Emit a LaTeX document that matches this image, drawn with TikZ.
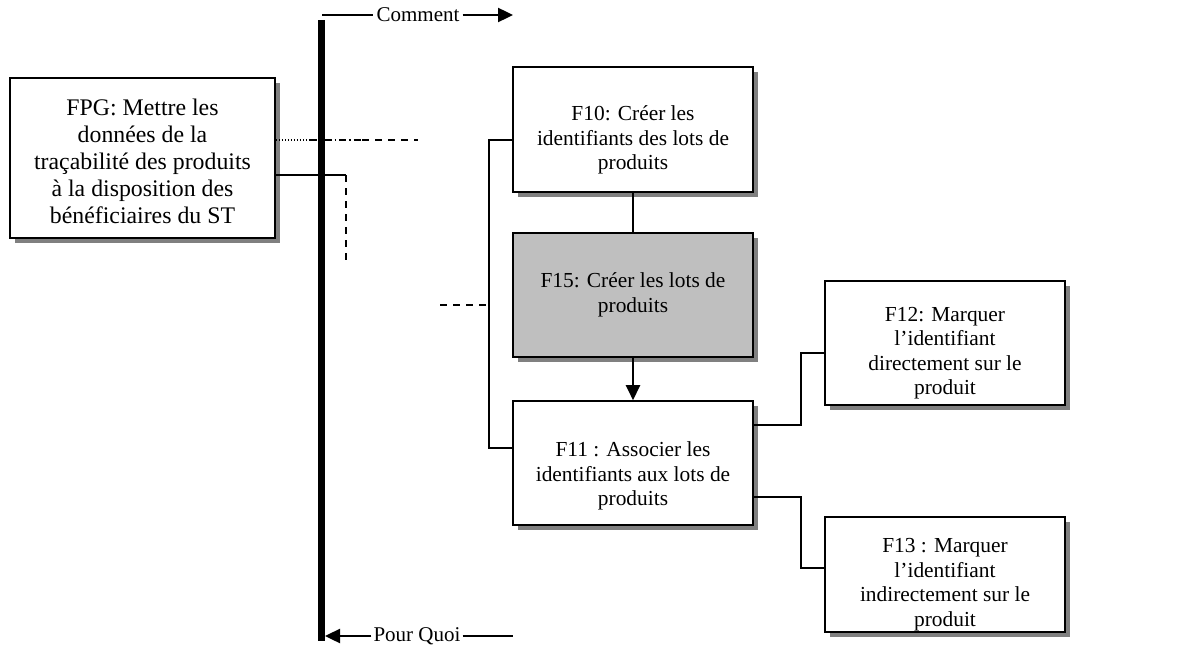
\documentclass[tikz,border=0pt]{standalone}
\usepackage{fontspec}
\setmainfont{Liberation Serif}
\usetikzlibrary{arrows.meta,shadows}
\begin{document}
\begin{tikzpicture}[x=1pt,y=-1pt,
  box/.style={draw=black,line width=1.6pt,fill=white,inner sep=0pt,
    drop shadow={shadow xshift=5pt,shadow yshift=-5pt,fill=black!50,opacity=1}},
  boxtext/.style={align=center,font=\fontsize{21.4}{24.5}\selectfont,inner sep=0pt},
  conn/.style={line width=1.3pt},
  dconn/.style={line width=1.3pt,dash pattern=on 7pt off 6pt},
  lbl/.style={font=\fontsize{21}{24}\selectfont,inner sep=0pt},
  tip/.style={line width=2.4pt,-{Triangle[length=15pt,width=14pt]}}
]
\useasboundingbox (0,0) rectangle (1178,650);

% boxes
\node[box,minimum width=265pt,minimum height=160pt] (fpg) at (142.5,158) {};
\node[boxtext,font=\fontsize{23.8}{27}\selectfont] (fpgt) at (142.5,161)
  {FPG: Mettre les\\donn\'ees de la\\tra\c{c}abilit\'e des produits\\\`a la disposition des\\b\'en\'eficiaires du ST};

\node[box,minimum width=240pt,minimum height=125pt] (f10) at (633,129.5) {};
\node[boxtext] (f10t) at (633,140) {F10: Cr\'eer les\\identifiants des lots de\\produits};

\node[box,fill=black!25,minimum width=240pt,minimum height=124pt] (f15) at (633,295) {};
\node[boxtext] (f15t) at (633,295) {F15: Cr\'eer les lots de\\produits};

\node[box,minimum width=240pt,minimum height=124pt] (f11) at (633,463) {};
\node[boxtext] (f11t) at (633,476) {F11 : Associer les\\identifiants aux lots de\\produits};

\node[box,minimum width=240pt,minimum height=124pt] (f12) at (945,343) {};
\node[boxtext] (f12t) at (945,353) {F12: Marquer\\l’identifiant\\directement sur le\\produit};

\node[box,minimum width=240pt,minimum height=115pt] (f13) at (945,574.5) {};
\node[boxtext] (f13t) at (945,584.5) {F13 : Marquer\\l’identifiant\\indirectement sur le\\produit};

% thick axis
\coordinate (axtop) at (321.5,20);
\coordinate (axbot) at (321.5,641);
\draw[line width=7pt] (axtop) -- (axbot);

% Comment / Pour Quoi
\node[lbl] (comment) at (418,15) {Comment};
\coordinate (c1) at (322,15);
\coordinate (c2) at (513,15);
\draw[conn] (c1) -- ([xshift=-3pt]comment.west);
\draw[tip] ([xshift=3pt]comment.east) -- (c2);

\node[lbl] (pourquoi) at (417,636) {Pour Quoi};
\coordinate (p1) at (325,636);
\coordinate (p2) at (513,636);
\draw[tip] ([xshift=-2pt]pourquoi.west) -- (p1);
\draw[conn] ([xshift=2pt]pourquoi.east) -- (p2);

% lines from FPG
\coordinate (d1) at (310,140);
\coordinate (d2) at (362,140);
\coordinate (d3) at (418,140);
\draw[line width=1.3pt,dash pattern=on 1.5pt off 1.5pt] (fpg.east |- d1) -- (d1);
\draw[line width=1.3pt,dash pattern=on 7pt off 3pt on 1.5pt off 3pt] (d1) -- (d2);
\draw[dconn] (d2) -- (d3);

\coordinate (s1) at (346,175);
\coordinate (s2) at (346,266);
\draw[conn] (fpg.east |- s1) -- (s1);
\draw[dconn] (s1) -- (s2);

% bracket for F10 / F11
\coordinate (b1) at (489,140);
\coordinate (b2) at (489,448);
\coordinate (bm) at (489,305);
\coordinate (bl) at (440,305);
\draw[conn] (f10.west |- b1) -- (b1) -- (b2) -- (f11.west |- b2);
\draw[dconn] (bl) -- (bm);

% vertical links
\draw[conn] (f10.south) -- (f15.north);
\draw[tip] (f15.south) -- (f11.north);

% to F12 / F13
\coordinate (e1) at (801,425);
\coordinate (e2) at (801,353);
\coordinate (e3) at (801,497);
\coordinate (e4) at (801,568);
\draw[conn] (f11.east |- e1) -- (e1) -- (e2) -- (f12.west |- e2);
\draw[conn] (f11.east |- e3) -- (e3) -- (e4) -- (f13.west |- e4);
\end{tikzpicture}
\end{document}
